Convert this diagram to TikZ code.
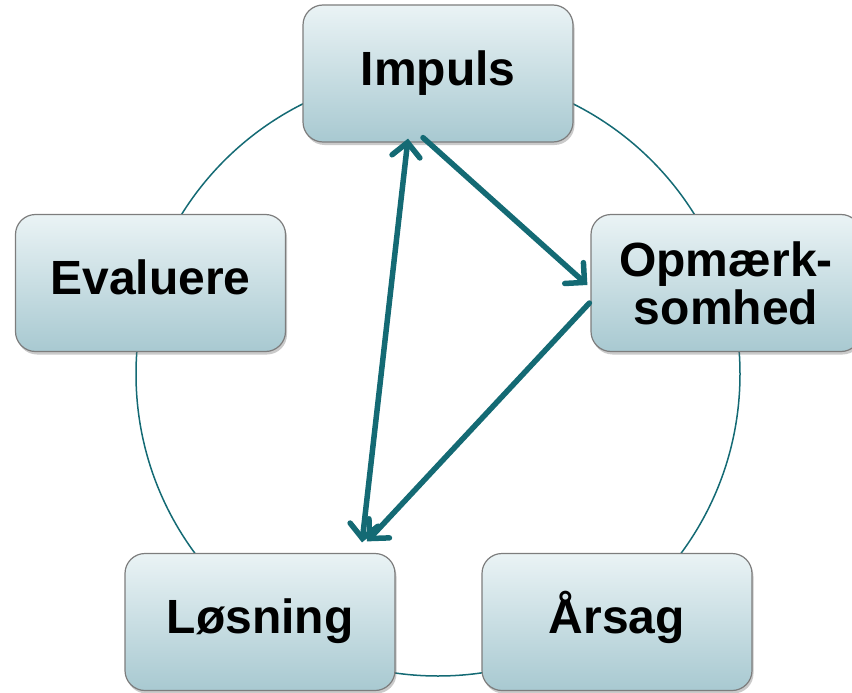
\documentclass[tikz,border=0pt]{standalone}
\usepackage{fontspec}
\setmainfont{Liberation Sans}
\usetikzlibrary{arrows.meta,shadows}
\definecolor{teal1}{RGB}{20,106,116}
\definecolor{boxtop}{RGB}{234,243,245}
\definecolor{boxbot}{RGB}{168,201,209}
\definecolor{boxline}{RGB}{125,125,125}
\begin{document}
\begin{tikzpicture}[x=1pt,y=-1pt,
  stage/.style={draw=boxline, line width=1.2pt, rounded corners=20pt,
    minimum width=270pt, minimum height=137pt, top color=boxtop, bottom color=boxbot,
    drop shadow={shadow xshift=1.5pt, shadow yshift=-3pt, opacity=0.35, fill=black!60},
    font=\fontsize{48}{48}\selectfont\bfseries, align=center, inner sep=0pt},
  oneline/.style={text height=35pt, text depth=12pt},
  flow/.style={draw=teal1, line width=5.5pt, line cap=round,
    -{Straight Barb[length=14pt,width=28pt,line cap=round]}},
  bothflow/.style={draw=teal1, line width=5.5pt, line cap=round,
    {Straight Barb[length=14pt,width=28pt,line cap=round]}-{Straight Barb[length=14pt,width=28pt,line cap=round]}},
  ring/.style={draw=teal1, line width=1.5pt}]
\useasboundingbox (0,0) rectangle (852,693);
\draw[ring] (438,374) circle [radius=302];
\node[stage,oneline] (imp) at (438,73.5) {Impuls};
\node[stage] (opm) at (726,283) {Opmærk-\\somhed};
\node[stage,oneline] (ars) at (617,622) {Årsag};
\node[stage,oneline] (los) at (260,622) {Løsning};
\node[stage,oneline] (eva) at (150.5,283) {Evaluere};
\draw[flow] ([xshift=-15pt,yshift=5pt]imp.south) -- ([xshift=-3pt,yshift=-2pt]opm.west);
\draw[flow] ([xshift=-1pt,yshift=-20pt]opm.west) -- ([xshift=107pt,yshift=11.5pt]los.north);
\draw[bothflow] ([xshift=102pt,yshift=10.5pt]los.north) -- ([xshift=-30pt,yshift=4pt]imp.south);
\end{tikzpicture}
\end{document}
